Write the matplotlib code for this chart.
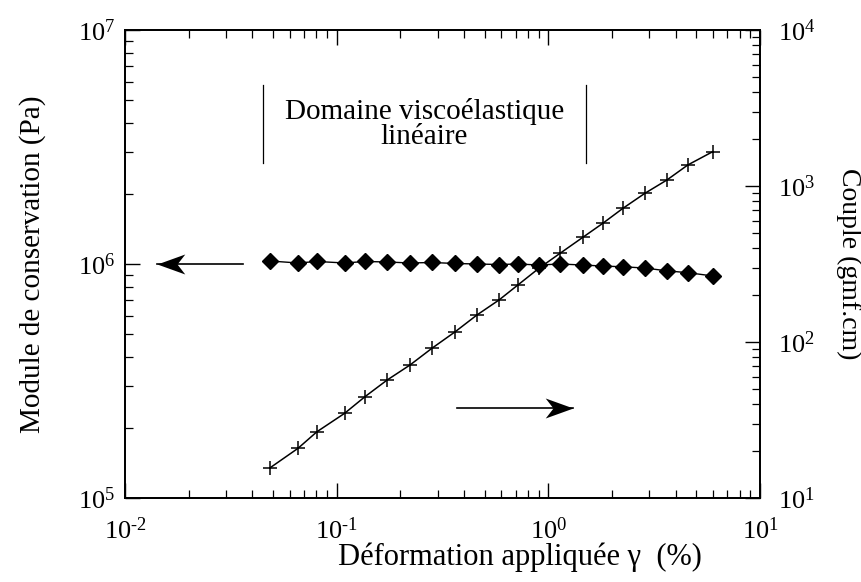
import matplotlib
matplotlib.use("Agg")
import matplotlib.pyplot as plt
import numpy as np
from matplotlib.path import Path
from matplotlib.ticker import LogLocator, FuncFormatter, NullFormatter

plt.rcParams['font.family'] = ['Liberation Serif', 'DejaVu Serif']
plt.rcParams['mathtext.fontset'] = 'custom'
plt.rcParams['mathtext.rm'] = 'Liberation Serif'
plt.rcParams['axes.unicode_minus'] = False

# Strain sweep (%), storage modulus (Pa) and torque (gmf.cm)
strain = [0.0484, 0.0656, 0.0807, 0.109, 0.136, 0.173, 0.222, 0.282, 0.362, 0.460,
          0.585, 0.718, 0.903, 1.135, 1.456, 1.81, 2.25, 2.86, 3.63, 4.56, 5.98]
modulus = [1.03e6, 1.01e6, 1.025e6, 1.01e6, 1.025e6, 1.02e6, 1.01e6, 1.015e6, 1.005e6, 1.0e6,
           0.995e6, 1.0e6, 0.99e6, 1.0e6, 0.99e6, 0.98e6, 0.973e6, 0.961e6, 0.935e6, 0.918e6, 0.889e6]
torque = [15.6, 20.8, 26.6, 34.9, 44.6, 57.0, 71.2, 91.2, 116, 149,
          186, 232, 297, 370, 469, 577, 719, 898, 1092, 1364, 1660]

# limits of the linear viscoelastic region (%)
lve_bounds = [0.045, 1.5]

# arrows pointing to each curve's axis
left_arrow_x = [0.036, 0.0142]   # tail, tip
left_arrow_y = 1.0e6
right_arrow_x = [0.37, 1.31]
right_arrow_y = 38

fs_tick = 19
fs_label = 21


def pow10(v, pos):
    n = int(round(np.log10(v)))
    sign = r'\text{-}' if n < 0 else ''
    return r'$\mathdefault{10^{' + sign + str(abs(n)) + '}}$'


fig = plt.figure(figsize=(8.62, 5.82), dpi=100)
ax = fig.add_axes([0.145, 0.1443, 0.7367, 0.8042])
ax2 = ax.twinx()

ax.set_xscale('log')
ax.set_yscale('log')
ax2.set_yscale('log')
ax.set_xlim(1e-2, 1e1)
ax.set_ylim(1e5, 1e7)
ax2.set_ylim(1e1, 1e4)

ax.plot(strain, modulus, color='black', lw=1.0, marker='D', ms=8.5, mfc='black', mec='black', zorder=3)
ax2.plot(strain, torque, color='black', lw=1.1, marker='+', ms=10, mew=1.1, zorder=3)

# custom arrow heads with a swept-back tail
head_left = Path([(0, 0), (1, 0.36), (0.72, 0), (1, -0.36), (0, 0)],
                 [Path.MOVETO, Path.LINETO, Path.LINETO, Path.LINETO, Path.CLOSEPOLY])
head_right = Path([(0, 0), (-1, 0.36), (-0.72, 0), (-1, -0.36), (0, 0)],
                  [Path.MOVETO, Path.LINETO, Path.LINETO, Path.LINETO, Path.CLOSEPOLY])

ax.plot(left_arrow_x, [left_arrow_y, left_arrow_y], color='black', lw=1.2)
ax.plot([left_arrow_x[1]], [left_arrow_y], marker=head_left, ms=40, color='black', mew=0)
ax2.plot(right_arrow_x, [right_arrow_y, right_arrow_y], color='black', lw=1.2)
ax2.plot([right_arrow_x[1]], [right_arrow_y], marker=head_right, ms=40, color='black', mew=0)

# linear viscoelastic domain markers
for xb in lve_bounds:
    ax.plot([xb, xb], [2.7e6, 5.8e6], color='black', lw=0.9)
ax.text(np.sqrt(lve_bounds[0] * lve_bounds[1]), 3.95e6,
        'Domaine viscoélastique\nlinéaire', ha='center', va='center',
        fontsize=fs_label, linespacing=0.95)

# ticks
for a in (ax, ax2):
    a.yaxis.set_major_locator(LogLocator(base=10, numticks=10))
    a.yaxis.set_minor_locator(LogLocator(base=10, subs=np.arange(2, 10), numticks=10))
    a.yaxis.set_minor_formatter(NullFormatter())
    a.yaxis.set_major_formatter(FuncFormatter(pow10))
ax.xaxis.set_major_locator(LogLocator(base=10, numticks=10))
ax.xaxis.set_minor_locator(LogLocator(base=10, subs=np.arange(2, 10), numticks=10))
ax.xaxis.set_minor_formatter(NullFormatter())
ax.xaxis.set_major_formatter(FuncFormatter(pow10))

ax.tick_params(axis='x', which='both', direction='in', top=True, bottom=True, labelsize=fs_tick, pad=14)
ax.tick_params(axis='y', which='both', direction='in', left=True, right=False, labelsize=fs_tick, pad=7)
ax2.tick_params(axis='y', which='both', direction='in', left=False, right=True, labelsize=fs_tick, pad=13)
for a in (ax, ax2):
    a.tick_params(which='major', length=11, width=1.0)
    a.tick_params(which='minor', length=6, width=0.9)

for a in (ax, ax2):
    for s in a.spines.values():
        s.set_linewidth(1.3)

ax.set_xlabel('Déformation appliquée γ  (%)', fontsize=fs_label + 1, va='center')
ax.xaxis.set_label_coords(0.622, -0.126)
ax.set_ylabel('Module de conservation (Pa)', fontsize=fs_label, va='center')
ax.yaxis.set_label_coords(-0.146, 0.5)
ax2.set_ylabel('Couple (gmf.cm)', fontsize=fs_label - 1, rotation=270, va='center')
ax2.yaxis.set_label_coords(1.14, 0.5)

fig.savefig('out.png', dpi=100)
